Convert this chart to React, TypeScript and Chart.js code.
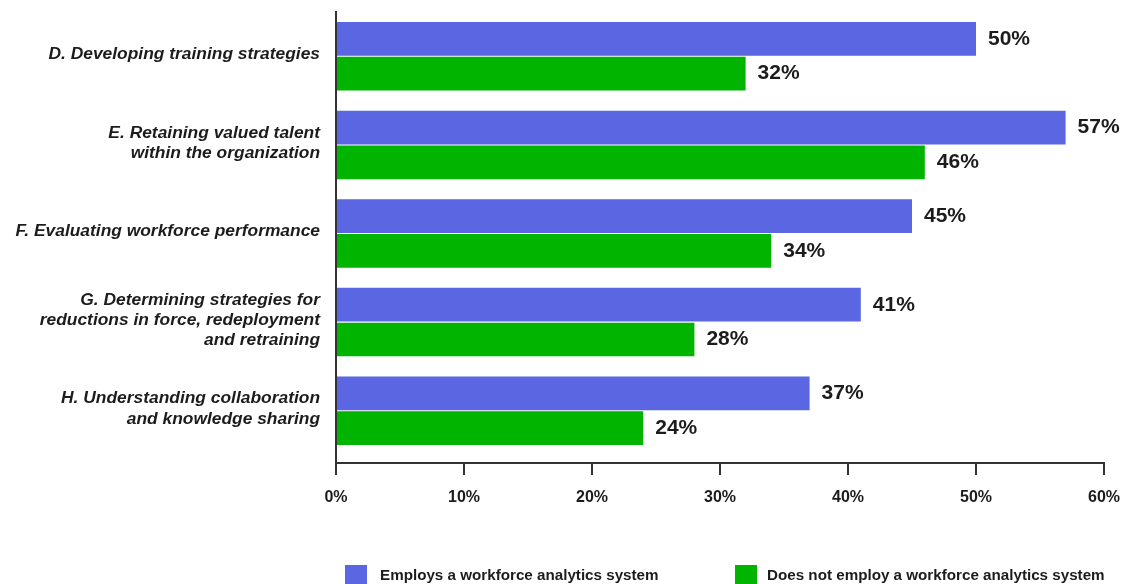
import React, { useEffect, useRef } from "react";
import { Chart, registerables } from "chart.js";

Chart.register(...registerables);

const categories: string[][] = [
  ["D. Developing training strategies"],
  ["E. Retaining valued talent", "within the organization"],
  ["F. Evaluating workforce performance"],
  ["G. Determining strategies for", "reductions in force, redeployment", "and retraining"],
  ["H. Understanding collaboration", "and knowledge sharing"],
];
const employsValues = [50, 57, 45, 41, 37];
const notEmployValues = [32, 46, 34, 28, 24];
const seriesNames = [
  "Employs a workforce analytics system",
  "Does not employ a workforce analytics system",
];
const xTicks = [0, 10, 20, 30, 40, 50, 60];

const BLUE = "#5A66E2";
const GREEN = "#00B400";
const TEXT = "#1c1c1c";
const FONT = "'Liberation Sans', Arial, sans-serif";

const valueLabelPlugin = {
  id: "valueLabels",
  afterDatasetsDraw(chart: any) {
    const ctx = chart.ctx;
    ctx.save();
    ctx.font = `bold 21px ${FONT}`;
    ctx.fillStyle = TEXT;
    ctx.textAlign = "left";
    ctx.textBaseline = "middle";
    chart.data.datasets.forEach((ds: any, di: number) => {
      const meta = chart.getDatasetMeta(di);
      meta.data.forEach((el: any, i: number) => {
        ctx.fillText(`${ds.data[i]}%`, el.x + 12, el.y);
      });
    });
    ctx.restore();
  },
};

const legendPlugin = {
  id: "customLegend",
  afterDraw(chart: any) {
    const ctx = chart.ctx;
    const items = [
      { box: 345, text: 380 },
      { box: 735, text: 767 },
    ];
    ctx.save();
    ctx.font = `bold 15.2px ${FONT}`;
    ctx.textBaseline = "middle";
    ctx.textAlign = "left";
    chart.data.datasets.forEach((ds: any, i: number) => {
      const it = items[i];
      ctx.fillStyle = ds.backgroundColor;
      ctx.fillRect(it.box, 565, 22, 19);
      ctx.fillStyle = TEXT;
      ctx.fillText(ds.label, it.text, 576);
    });
    ctx.restore();
  },
};

export default function App() {
  const canvasRef = useRef<HTMLCanvasElement | null>(null);

  useEffect(() => {
    if (!canvasRef.current) return;
    const chart = new Chart(canvasRef.current, {
      type: "bar",
      data: {
        labels: categories as any,
        datasets: [
          {
            label: seriesNames[0],
            data: employsValues,
            backgroundColor: BLUE,
            categoryPercentage: 0.785,
            barPercentage: 0.97,
          },
          {
            label: seriesNames[1],
            data: notEmployValues,
            backgroundColor: GREEN,
            categoryPercentage: 0.785,
            barPercentage: 0.97,
          },
        ],
      },
      options: {
        indexAxis: "y",
        animation: false,
        responsive: true,
        maintainAspectRatio: false,
        devicePixelRatio: 1,
        layout: { padding: { top: 12, right: 32, left: 0, bottom: 0 } },
        plugins: {
          legend: { display: false },
          tooltip: { enabled: false },
        },
        scales: {
          x: {
            min: xTicks[0],
            max: xTicks[xTicks.length - 1],
            afterBuildTicks: (scale: any) => {
              scale.ticks = xTicks.map((v) => ({ value: v }));
            },
            ticks: {
              callback: (v: any) => `${v}%`,
              font: { family: FONT, size: 16, weight: "bold" },
              color: TEXT,
              padding: 13,
              maxRotation: 0,
            },
            grid: {
              drawOnChartArea: false,
              drawTicks: true,
              tickLength: 12,
              color: "#333",
              lineWidth: 2,
            },
            border: { display: true, color: "#333", width: 2 },
            afterFit: (scale: any) => {
              scale.height = 121;
              scale.paddingLeft = 0;
              scale.paddingRight = 0;
            },
          },
          y: {
            grid: { display: false, drawTicks: false },
            border: { display: true, color: "#333", width: 2 },
            afterBuildTicks: (scale: any) => {
              // leave a little empty room below the last category, as in the reference
              scale._valueRange = scale._valueRange + 0.09;
            },
            ticks: {
              font: { family: FONT, size: 17.4, weight: "bold", style: "italic", lineHeight: 1.16 },
              color: TEXT,
              padding: 16,
              labelOffset: -2,
            },
            afterFit: (scale: any) => {
              scale.width = 336;
              scale.paddingTop = 0;
              scale.paddingBottom = 0;
            },
          },
        },
      } as any,
      plugins: [valueLabelPlugin, legendPlugin],
    });
    return () => chart.destroy();
  }, []);

  return (
    <div
      style={{
        position: "fixed",
        left: 0,
        top: 0,
        width: 1136,
        height: 584,
        background: "#fff",
      }}
    >
      <canvas ref={canvasRef} />
    </div>
  );
}
